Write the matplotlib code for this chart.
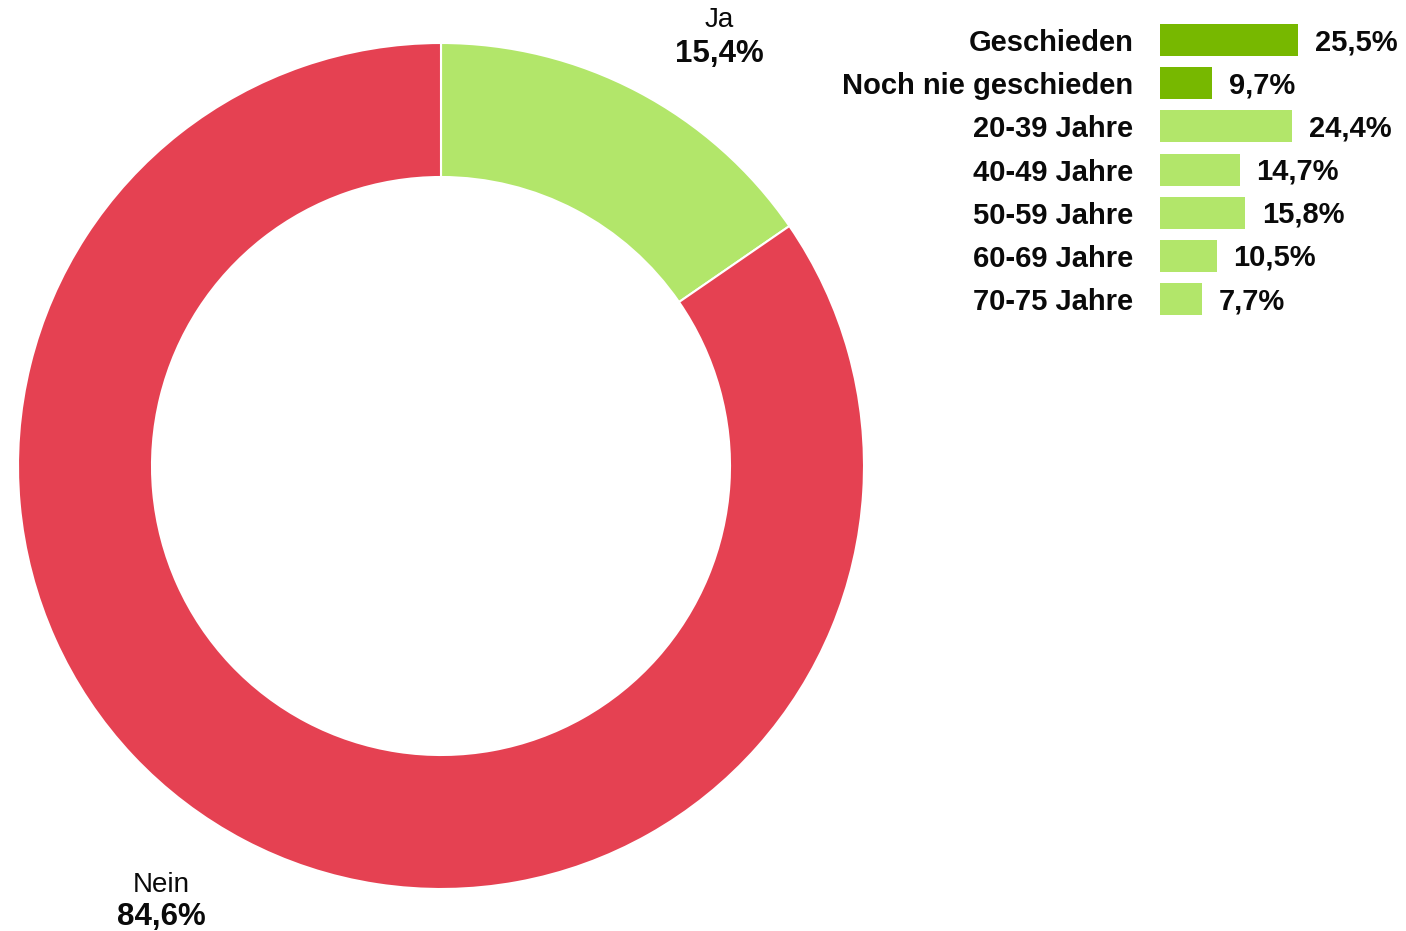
import matplotlib
matplotlib.use("Agg")
import matplotlib.pyplot as plt

plt.rcParams['font.family'] = ['Liberation Sans', 'DejaVu Sans']

# Data
pie_labels = ["Ja", "Nein"]
pie_values = [15.4, 84.6]
pie_value_text = ["15,4%", "84,6%"]
pie_colors = ["#B2E66A", "#E54152"]

bar_categories = ["Geschieden", "Noch nie geschieden", "20-39 Jahre", "40-49 Jahre",
                  "50-59 Jahre", "60-69 Jahre", "70-75 Jahre"]
bar_values = [25.5, 9.7, 24.4, 14.7, 15.8, 10.5, 7.7]
bar_value_text = ["25,5%", "9,7%", "24,4%", "14,7%", "15,8%", "10,5%", "7,7%"]
bar_colors = ["#77B800", "#77B800", "#B2E66A", "#B2E66A", "#B2E66A", "#B2E66A", "#B2E66A"]

W, H = 1406, 931
fig = plt.figure(figsize=(W / 100, H / 100), dpi=100)
TXT = "#0a0a0a"

# Donut
cx, cy, R = 441, 466, 423
ax = fig.add_axes([(cx - R) / W, (H - cy - R) / H, 2 * R / W, 2 * R / H])
ax.pie(pie_values, colors=pie_colors, startangle=90, counterclock=False,
       radius=1.0, wedgeprops=dict(width=134 / 423, edgecolor="white", linewidth=1.5))
ax.set_xlim(-1, 1)
ax.set_ylim(-1, 1)
ax.set_aspect("equal")
ax.axis("off")

label_pos = [(0.657, 1.054, 0.975), (-0.662, -0.991, -1.066)]
for (x, yl, yv), lab, val in zip(label_pos, pie_labels, pie_value_text):
    ax.text(x, yl, lab, ha="center", va="center", fontsize=20, color=TXT, clip_on=False)
    ax.text(x, yv, val, ha="center", va="center", fontsize=22.5, fontweight="bold",
            color=TXT, clip_on=False)

# Bar chart
step = 43.17
top = 40 - step / 2
left = 1160
px_per = 5.41
xmax = 30
bx = fig.add_axes([left / W, (H - top - 7 * step) / H, xmax * px_per / W, 7 * step / H])
ypos = list(range(len(bar_categories)))
bx.barh(ypos, bar_values, height=32 / step, color=bar_colors, edgecolor="none")
bx.set_xlim(0, xmax)
bx.set_ylim(len(bar_categories) - 0.5, -0.5)
bx.set_yticks(ypos)
bx.set_yticklabels(bar_categories, fontsize=21, fontweight="bold", color=TXT)
bx.tick_params(axis="y", length=0, pad=19)
bx.set_xticks([])
for s in bx.spines.values():
    s.set_visible(False)
bx.patch.set_visible(False)
for y, v, t in zip(ypos, bar_values, bar_value_text):
    bx.annotate(t, (v, y), xytext=(12, -1.5), textcoords="offset points", ha="left", va="center",
                fontsize=21, fontweight="bold", color=TXT, annotation_clip=False)

fig.savefig("out.png", dpi=100, facecolor="white")
